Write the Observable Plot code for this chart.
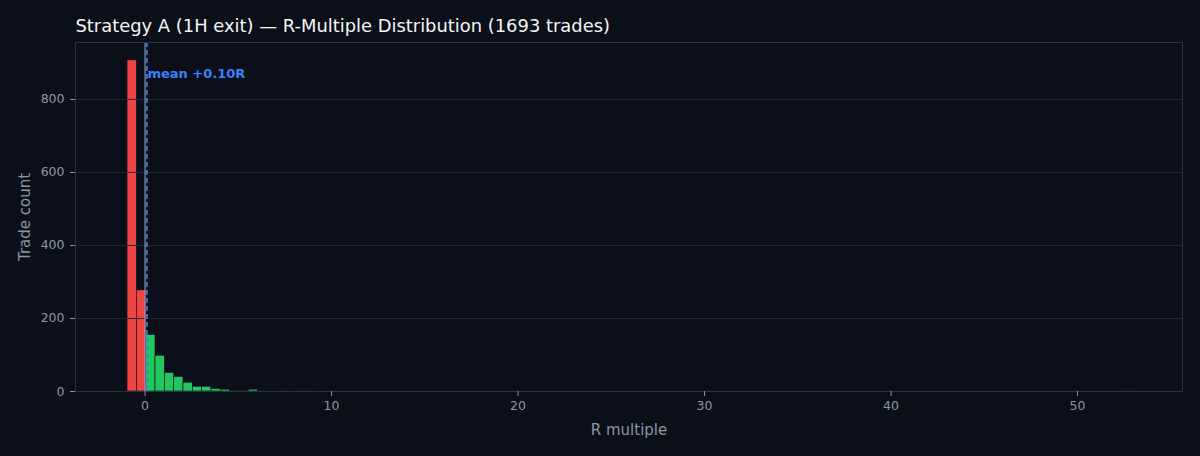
<!DOCTYPE html>
<html>
<head>
<meta charset="utf-8">
<script src="https://cdn.jsdelivr.net/npm/d3@7"></script>
<script src="https://cdn.jsdelivr.net/npm/@observablehq/plot@0.6"></script>
<style>
  html, body { margin: 0; padding: 0; background: #0b0f19; }
  #chart svg { display: block; }
</style>
</head>
<body>
<div id="chart"></div>
<script>
const titleText = "Strategy A (1H exit) — R-Multiple Distribution (1693 trades)";
const binWidth = 0.5;
const binStart = [-0.94, -0.44, 0.06, 0.56, 1.06, 1.56, 2.06, 2.56, 3.06, 3.56, 4.06, 4.56, 5.06, 5.56, 6.06, 7.06, 8.06, 8.56, 52.56];
const binCount = [907, 277, 155, 98, 51, 40, 24, 13, 13, 7, 5, 2, 2, 5, 1, 1, 1, 1, 1];
const meanR = 0.10;
const xTicks = [0, 10, 20, 30, 40, 50];
const yTicks = [0, 200, 400, 600, 800];
const xDomain = [-3.73, 55.63];
const yDomain = [0, 956];

const bins = binStart.map((x0, i) => ({x1: x0, x2: x0 + binWidth, count: binCount[i]}));

const bg = "#0b0f19";
const tickColor = "#8b95a7";
const gridColor = "#232a37";
const frameColor = "#2a3242";

const chart = Plot.plot({
  width: 1200,
  height: 456,
  marginLeft: 75,
  marginRight: 18,
  marginTop: 42,
  marginBottom: 65,
  style: {background: bg, fontFamily: "DejaVu Sans", color: tickColor},
  x: {domain: xDomain},
  y: {domain: yDomain},
  marks: [
    Plot.rectY(bins, {x1: "x1", x2: "x2", y1: 0, y2: "count",
      fill: d => d.x2 <= 0.06 + 1e-9 ? "#ef4444" : "#22c55e",
      stroke: bg, strokeWidth: 0.6, inset: 0}),
    Plot.gridY(yTicks, {stroke: gridColor, strokeOpacity: 1, strokeWidth: 1}),
    Plot.ruleX([0], {stroke: "#a3abba", strokeOpacity: 0.85, strokeWidth: 1.2}),
    Plot.ruleX([meanR], {stroke: "#3b82f6", strokeWidth: 1.6, strokeDasharray: "5,3"}),
    Plot.text([`mean +${meanR.toFixed(2)}R`], {x: meanR, frameAnchor: "top", dy: 31, dx: 0.5,
      textAnchor: "start", lineAnchor: "middle", fill: "#3b82f6", fontWeight: "bold", fontSize: 13}),
    Plot.frame({stroke: frameColor, strokeWidth: 1}),
    Plot.axisX(xTicks, {tickSize: 5, tickPadding: 5, stroke: tickColor, fill: tickColor, fontSize: 12.5, label: null}),
    Plot.axisY(yTicks, {tickSize: 5, tickPadding: 6, stroke: tickColor, fill: tickColor, fontSize: 12.5, label: null}),
    Plot.text(["R multiple"], {frameAnchor: "bottom", dy: 39, lineAnchor: "middle", fill: tickColor, fontSize: 15}),
    Plot.text(["Trade count"], {frameAnchor: "left", dx: -50, rotate: -90, textAnchor: "middle", lineAnchor: "middle", fill: tickColor, fontSize: 15}),
    Plot.text([titleText], {frameAnchor: "top-left", dy: -16, textAnchor: "start", lineAnchor: "middle", fill: "#f5f5f5", fontSize: 17.9})
  ]
});
document.getElementById("chart").appendChild(chart);
</script>
</body>
</html>
